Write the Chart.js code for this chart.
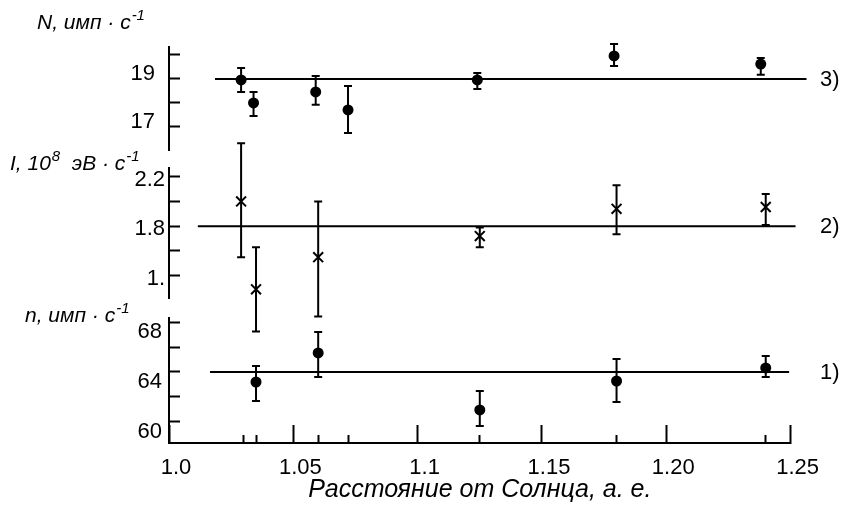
<!DOCTYPE html>
<html>
<head>
<meta charset="utf-8">
<script src="https://cdn.jsdelivr.net/npm/chart.js@4.4.0/dist/chart.umd.min.js"></script>
<style>
  html, body { margin: 0; padding: 0; background: #fff; }
  #wrap { width: 842px; height: 508px; }
</style>
</head>
<body>
<div id="wrap"><canvas id="chart" width="842" height="508"></canvas></div>
<script>
// distance from the Sun, a.u.
const xN = [1.029, 1.034, 1.059, 1.072, 1.124, 1.179, 1.238];
const xI = [1.029, 1.035, 1.060, 1.125, 1.180, 1.240];
const xn = [1.035, 1.060, 1.125, 1.180, 1.240];

// 3) N, counts per second
const valN = [18.96, 18.00, 18.46, 17.71, 18.96, 19.96, 19.62];
const loN  = [18.46, 17.46, 17.92, 16.75, 18.58, 19.54, 19.17];
const hiN  = [19.46, 18.46, 19.12, 18.71, 19.25, 20.46, 19.87];

// 2) I, 10^8 eV per second
const valI = [2.00, 1.29, 1.55, 1.72, 1.94, 1.955];
const loI  = [1.55, 0.95, 1.07, 1.63, 1.735, 1.81];
const hiI  = [2.47, 1.63, 2.00, 1.79, 2.13, 2.06];

// 1) n, counts per second
const valn = [63.19, 65.53, 60.94, 63.27, 64.32];
const lon  = [61.66, 63.60, 59.65, 61.58, 63.60];
const hin  = [64.48, 67.23, 62.47, 65.05, 65.29];

// mean levels and their extent
const refN = { y: 19,  x0: 1.0185, x1: 1.2564, label: '3)' };
const refI = { y: 1.8, x0: 1.0116, x1: 1.252,  label: '2)' };
const refn = { y: 64,  x0: 1.0165, x1: 1.2494, label: '1)' };

// axis ticks
const xMajor = [1.0, 1.05, 1.1, 1.15, 1.2, 1.25];
const xMajorLabels = ['1.0', '1.05', '1.1', '1.15', '1.20', '1.25'];
const xMinor = [1.03, 1.035, 1.06, 1.072, 1.125, 1.18, 1.24];
const ticksN = [17, 18, 19, 20];
const labelsN = { 19: '19', 17: '17' };
const ticksI = [1.4, 1.6, 1.8, 2.0, 2.2];
const labelsI = { '2.2': '2.2', '1.8': '1.8', '1.4': '1.' };
const ticksn = [60, 62, 64, 66, 68];
const labelsn = { 68: '68', 64: '64', 60: '60' };

const FONT = '"Liberation Sans", Arial, sans-serif';
Chart.defaults.font.family = FONT;
Chart.defaults.color = '#000';

const near = (a, b) => Math.abs(a - b) < 1e-6;

function pts(xs, ys) {
    return xs.map((x, i) => ({ x: x, y: ys[i] }));
}

function refLine(ref, axis) {
    return {
        type: 'line',
        data: [{ x: ref.x0, y: ref.y }, { x: ref.x1, y: ref.y }],
        yAxisID: axis,
        borderColor: '#000',
        borderWidth: 2,
        pointRadius: 0,
        clip: false
    };
}

function yAxis(min, max, tickList, labels, pad, offset, weight) {
    return {
        type: 'linear',
        position: 'left',
        stack: 'panels',
        stackWeight: weight,
        min: min,
        max: max,
        afterBuildTicks: (scale) => { scale.ticks = tickList.map(v => ({ value: v })); },
        afterFit: (scale) => { scale.width = 169; },
        border: { display: true, color: '#000', width: 2 },
        grid: { display: true, drawOnChartArea: false, drawTicks: true, tickLength: -11, tickWidth: 2, tickColor: '#000' },
        ticks: {
            autoSkip: false,
            padding: pad,
            labelOffset: offset,
            font: { size: 22 },
            color: '#000',
            callback: (v) => labels[String(Math.round(v * 10) / 10)] || ''
        }
    };
}

function gapAxis(weight) {
    return {
        type: 'linear',
        position: 'left',
        stack: 'panels',
        stackWeight: weight,
        min: 0,
        max: 1,
        afterFit: (scale) => { scale.width = 169; },
        border: { display: false },
        grid: { display: false },
        ticks: { display: false }
    };
}

const errorBars = [
    { axis: 'yN', xs: xN, lo: loN, hi: hiN },
    { axis: 'yI', xs: xI, lo: loI, hi: hiI },
    { axis: 'yn', xs: xn, lo: lon, hi: hin }
];

const errorBarPlugin = {
    id: 'errorBars',
    beforeDatasetsDraw(chart) {
        const ctx = chart.ctx;
        const xs = chart.scales.x;
        ctx.save();
        ctx.strokeStyle = '#000';
        ctx.lineWidth = 2;
        errorBars.forEach(set => {
            const ys = chart.scales[set.axis];
            set.xs.forEach((x, i) => {
                const px = xs.getPixelForValue(x);
                const top = ys.getPixelForValue(set.hi[i]);
                const bot = ys.getPixelForValue(set.lo[i]);
                ctx.beginPath();
                ctx.moveTo(px, top);
                ctx.lineTo(px, bot);
                ctx.moveTo(px - 4, top);
                ctx.lineTo(px + 4, top);
                ctx.moveTo(px - 4, bot);
                ctx.lineTo(px + 4, bot);
                ctx.stroke();
            });
        });
        ctx.restore();
    }
};

function drawRich(ctx, x, y, parts, size) {
    let cx = x;
    parts.forEach(p => {
        const s = p.sup ? Math.round(size * 0.7) : size;
        ctx.font = 'italic ' + s + 'px ' + FONT;
        ctx.fillText(p.t, cx + (p.sup ? 1 : 0), p.sup ? y - size * 0.42 : y);
        cx += ctx.measureText(p.t).width + (p.sup ? 1 : 0);
    });
}

const annotationPlugin = {
    id: 'annotations',
    afterDraw(chart) {
        const ctx = chart.ctx;
        ctx.save();
        ctx.fillStyle = '#000';
        ctx.textAlign = 'left';
        ctx.textBaseline = 'alphabetic';
        drawRich(ctx, 37, 29, [{ t: 'N, имп · с' }, { t: '-1', sup: true }], 21);
        drawRich(ctx, 10, 170, [{ t: 'I, 10' }, { t: '8', sup: true }, { t: '  эВ · с' }, { t: '-1', sup: true }], 21);
        drawRich(ctx, 25, 322, [{ t: 'n, имп · с' }, { t: '-1', sup: true }], 21);

        ctx.font = '22px ' + FONT;
        ctx.textBaseline = 'middle';
        [[refN, 'yN'], [refI, 'yI'], [refn, 'yn']].forEach(([ref, axis]) => {
            const py = chart.scales[axis].getPixelForValue(ref.y);
            ctx.fillText(ref.label, 820, py + 1);
        });
        ctx.restore();
    }
};

new Chart(document.getElementById('chart'), {
    type: 'scatter',
    data: {
        datasets: [
            refLine(refN, 'yN'),
            refLine(refI, 'yI'),
            refLine(refn, 'yn'),
            {
                data: pts(xN, valN), yAxisID: 'yN',
                pointStyle: 'circle', pointRadius: 5.5,
                backgroundColor: '#000', borderColor: '#000', borderWidth: 0
            },
            {
                data: pts(xI, valI), yAxisID: 'yI',
                pointStyle: 'crossRot', pointRadius: 7,
                borderColor: '#000', borderWidth: 2
            },
            {
                data: pts(xn, valn), yAxisID: 'yn',
                pointStyle: 'circle', pointRadius: 5.5,
                backgroundColor: '#000', borderColor: '#000', borderWidth: 0
            }
        ]
    },
    options: {
        responsive: false,
        animation: false,
        layout: { padding: { top: 47, right: 50, left: 0, bottom: 0 } },
        plugins: {
            legend: { display: false },
            tooltip: { enabled: false }
        },
        scales: {
            x: {
                type: 'linear',
                position: 'bottom',
                min: 1.0,
                max: 1.25,
                afterBuildTicks: (scale) => {
                    const all = xMajor.concat(xMinor).sort((a, b) => a - b);
                    scale.ticks = all.map(v => ({ value: v }));
                },
                afterFit: (scale) => { scale.height = 65; },
                border: { display: true, color: '#000', width: 2 },
                grid: {
                    display: true,
                    drawOnChartArea: false,
                    drawTicks: true,
                    tickLength: -18,
                    tickWidth: 2,
                    tickColor: '#000',
                    // minor ticks are only half as long
                    tickBorderDash: (ctx) => {
                        const v = ctx.tick ? ctx.tick.value : 0;
                        return xMajor.some(m => near(m, v)) ? [] : [9, 60];
                    }
                },
                ticks: {
                    autoSkip: false,
                    maxRotation: 0,
                    padding: 30,
                    labelOffset: 7,
                    font: { size: 22 },
                    color: '#000',
                    callback: (v) => {
                        const i = xMajor.findIndex(m => near(m, v));
                        return i >= 0 ? xMajorLabels[i] : '';
                    }
                },
                title: {
                    display: true,
                    text: 'Расстояние от Солнца, а. е.',
                    font: { size: 25, style: 'italic' },
                    color: '#000',
                    padding: { top: 0, bottom: 3 }
                }
            },
            // listed bottom panel first: stacked left axes are placed top-down in reverse order
            yn: yAxis(58.27, 68.35, ticksn, labelsn, 18, 10, 125),
            gap2: gapAxis(20),
            yI: yAxis(1.22, 2.27, ticksI, labelsI, 15, 3, 130),
            gap1: gapAxis(18),
            yN: yAxis(16.04, 20.33, ticksN, labelsN, 25, -5, 103)
        }
    },
    plugins: [errorBarPlugin, annotationPlugin]
});
</script>
</body>
</html>
